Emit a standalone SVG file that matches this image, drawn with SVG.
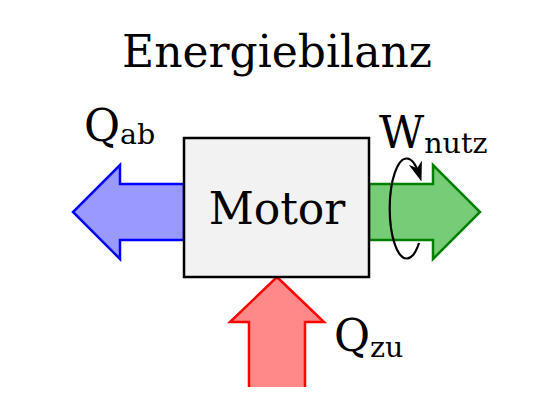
<svg xmlns="http://www.w3.org/2000/svg" width="554" height="416" viewBox="0 0 554 416">
<style>
text{font-family:"DejaVu Serif",serif;fill:#000}
.big{font-size:44px}
.sub{font-size:28.5px}
.arr{stroke-width:2.5;stroke-linejoin:miter}
</style>
<defs>
<marker id="ah" viewBox="0 0 10 10" refX="6" refY="5" markerWidth="9" markerHeight="9" orient="auto" markerUnits="strokeWidth">
<path d="M0,1.5 L10,5 L0,8.5 L3,5 Z" fill="#000"/>
</marker>
</defs>
<rect width="554" height="416" fill="#fff"/>
<text class="big" x="277" y="67" text-anchor="middle">Energiebilanz</text>
<g id="connectors">
<g id="qab-arrow"><path class="arr" d="M184,184 L120,184 L120,165 L73,212 L120,259 L120,240 L184,240 Z" fill="#9999ff" stroke="#0000ff"/></g>
<g id="wnutz-arrow"><path class="arr" d="M369,184 L433,184 L433,165 L480,212 L433,259 L433,240 L369,240 Z" fill="#77cc77" stroke="#008000"/></g>
<g id="qzu-arrow"><path class="arr" d="M249,387 L249,322 L230,322 L277,277 L324,322 L305,322 L305,387" fill="#ff8888" stroke="#ff0000"/></g>
<path id="rotation" d="M419,243 A17,50 0 1 1 419,174" fill="none" stroke="#000" stroke-width="2.2" marker-end="url(#ah)"/>
</g>
<g id="motor">
<rect x="184" y="138" width="185" height="139" fill="#f2f2f2" stroke="#000" stroke-width="2.5"/>
<text class="big" x="277" y="224" text-anchor="middle">Motor</text>
</g>
<g id="qab-label"><text x="84" y="141"><tspan class="big">Q</tspan><tspan class="sub" dy="3">ab</tspan></text></g>
<g id="wnutz-label"><text x="379" y="148"><tspan class="big">W</tspan><tspan class="sub" dy="5">nutz</tspan></text></g>
<g id="qzu-label"><text x="334" y="351"><tspan class="big">Q</tspan><tspan class="sub" dy="6">zu</tspan></text></g>
</svg>
